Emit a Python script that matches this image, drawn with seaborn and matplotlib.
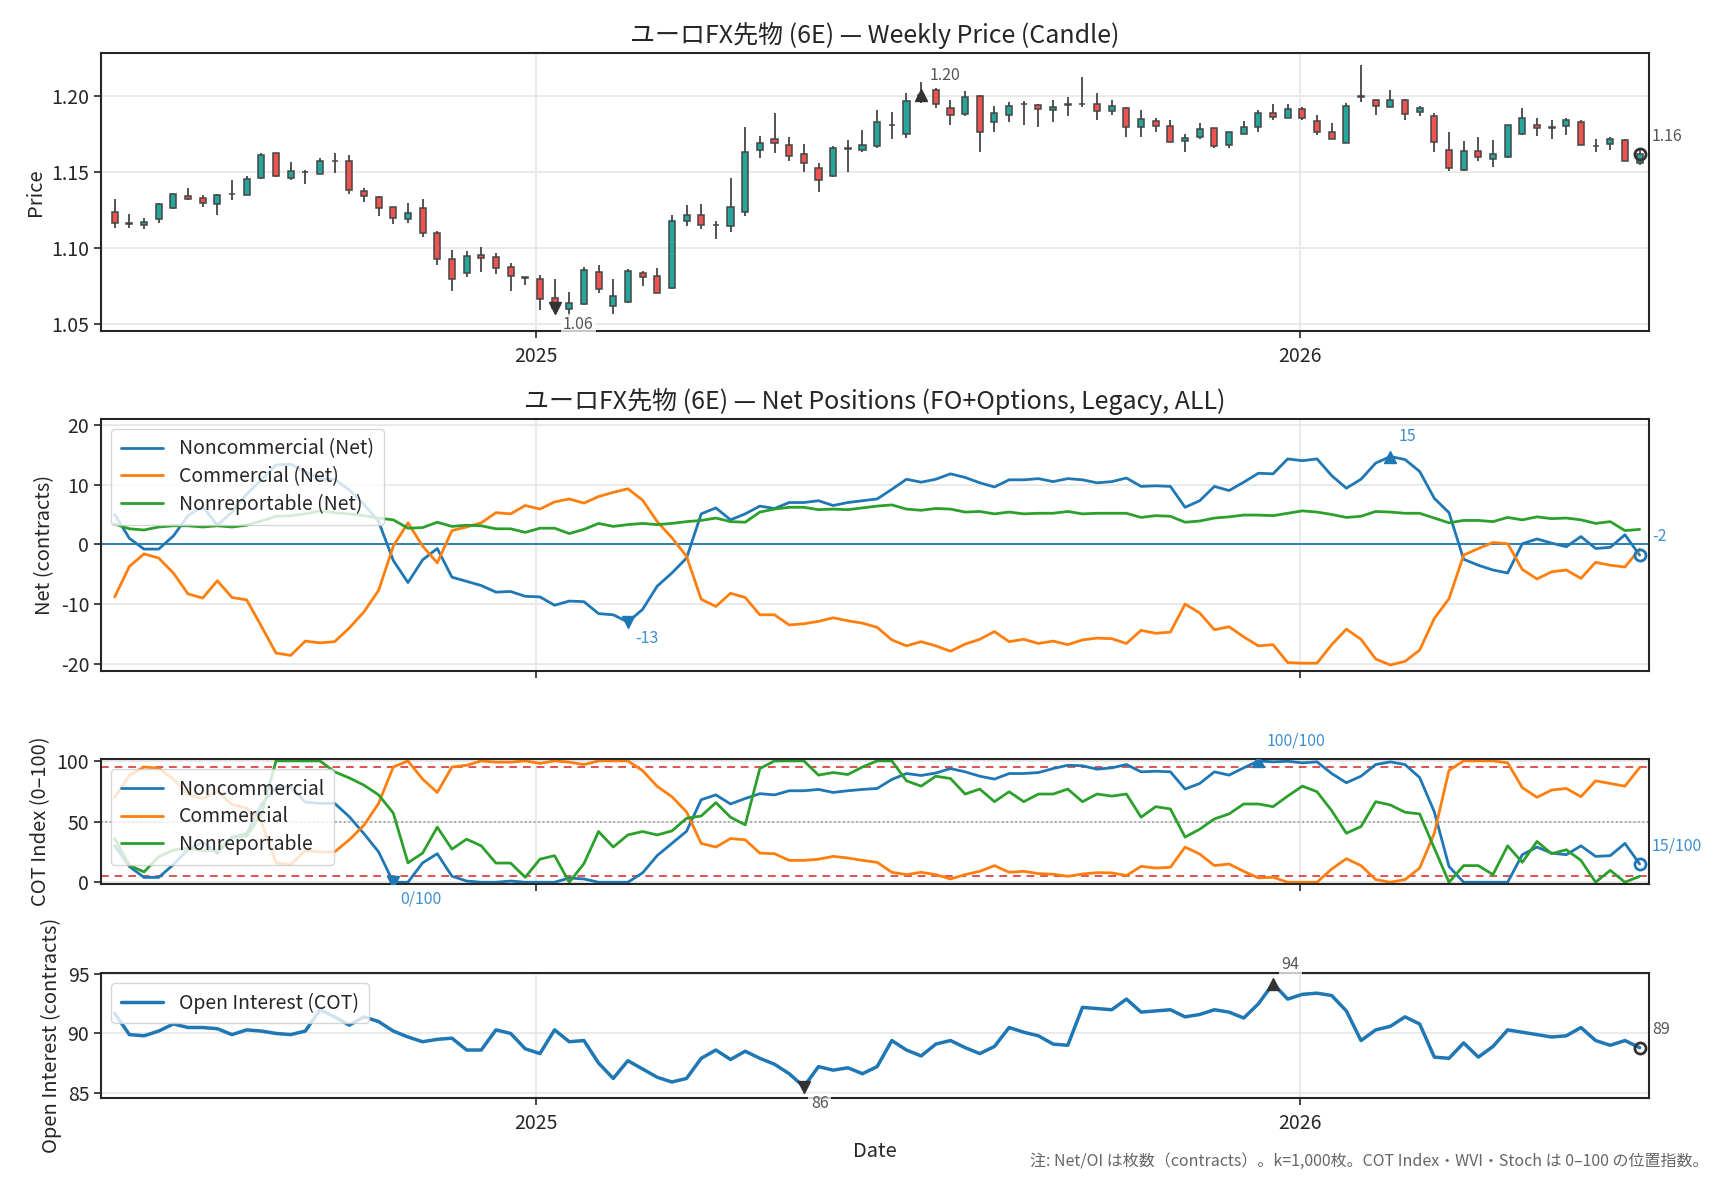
import numpy as np
import pandas as pd
import matplotlib
matplotlib.use("Agg")
import matplotlib.pyplot as plt
import matplotlib.dates as mdates
import seaborn as sns

# ---------------- data ----------------
dates = pd.date_range("2024-06-14", periods=105, freq="7D")

open_ = [1.1237,1.1165,1.1149,1.1189,1.1265,1.1344,1.1329,1.1292,1.1353,1.1346,
         1.1458,1.1621,1.1463,1.1502,1.1489,1.1570,1.1572,1.1375,1.1338,1.1270,
         1.1193,1.1263,1.1101,1.0928,1.0833,1.0954,1.0941,1.0875,1.0807,1.0798,
         1.0671,1.0601,1.0634,1.0844,1.0618,1.0645,1.0838,1.0816,1.0739,1.1175,
         1.1217,1.1151,1.1143,1.1239,1.1643,1.1713,1.1678,1.1616,1.1526,1.1474,
         1.1656,1.1643,1.1667,1.1810,1.1748,1.1967,1.2039,1.1919,1.1879,1.2000,
         1.1829,1.1873,1.1947,1.1941,1.1906,1.1941,1.1943,1.1945,1.1901,1.1921,
         1.1796,1.1836,1.1803,1.1706,1.1726,1.1785,1.1675,1.1748,1.1792,1.1890,
         1.1853,1.1910,1.1836,1.1765,1.1689,1.1998,1.1974,1.1923,1.1974,1.1895,
         1.1868,1.1645,1.1511,1.1638,1.1583,1.1601,1.1748,1.1807,1.1790,1.1803,
         1.1829,1.1673,1.1684,1.1711,1.1557]
high = [1.1320,1.1222,1.1200,1.1295,1.1360,1.1393,1.1346,1.1355,1.1445,1.1476,
        1.1627,1.1627,1.1568,1.1515,1.1594,1.1623,1.1614,1.1397,1.1342,1.1272,
        1.1298,1.1325,1.1112,1.0989,1.0978,1.1004,1.0969,1.0904,1.0811,1.0825,
        1.0798,1.0713,1.0877,1.0886,1.0794,1.0860,1.0851,1.0871,1.1217,1.1281,
        1.1287,1.1178,1.1463,1.1792,1.1739,1.1886,1.1732,1.1686,1.1561,1.1667,
        1.1708,1.1774,1.1906,1.1893,1.2018,1.2088,1.2048,1.1969,1.2029,1.2002,
        1.1930,1.1956,1.1963,1.1945,1.1969,1.1989,1.2121,1.2015,1.1969,1.1923,
        1.1906,1.1851,1.1840,1.1752,1.1818,1.1787,1.1765,1.1836,1.1908,1.1943,
        1.1943,1.1925,1.1871,1.1818,1.1950,1.2202,1.1982,1.2037,1.1976,1.1934,
        1.1890,1.1759,1.1700,1.1726,1.1708,1.1809,1.1917,1.1855,1.1844,1.1855,
        1.1844,1.1715,1.1732,1.1715,1.1643]
low = [1.1132,1.1132,1.1125,1.1164,1.1257,1.1316,1.1270,1.1217,1.1316,1.1346,
       1.1454,1.1467,1.1450,1.1421,1.1485,1.1493,1.1357,1.1303,1.1211,1.1158,
       1.1164,1.1072,1.0888,1.0717,1.0811,1.0844,1.0829,1.0717,1.0757,1.0592,
       1.0590,1.0553,1.0625,1.0702,1.0564,1.0640,1.0750,1.0706,1.0732,1.1145,
       1.1127,1.1061,1.1105,1.1211,1.1588,1.1627,1.1572,1.1500,1.1368,1.1467,
       1.1500,1.1632,1.1654,1.1719,1.1724,1.1955,1.1919,1.1809,1.1864,1.1632,
       1.1763,1.1825,1.1809,1.1796,1.1825,1.1864,1.1923,1.1842,1.1873,1.1730,
       1.1730,1.1759,1.1697,1.1632,1.1715,1.1654,1.1660,1.1748,1.1763,1.1842,
       1.1853,1.1842,1.1743,1.1715,1.1689,1.1956,1.1873,1.1923,1.1842,1.1868,
       1.1632,1.1507,1.1507,1.1572,1.1529,1.1588,1.1741,1.1737,1.1719,1.1743,
       1.1675,1.1632,1.1643,1.1570,1.1546]
close = [1.1162,1.1160,1.1173,1.1292,1.1355,1.1320,1.1294,1.1351,1.1357,1.1454,
         1.1612,1.1471,1.1507,1.1498,1.1572,1.1574,1.1379,1.1340,1.1265,1.1200,
         1.1232,1.1101,1.0925,1.0794,1.0947,1.0932,1.0866,1.0814,1.0803,1.0662,
         1.0605,1.0640,1.0855,1.0728,1.0684,1.0851,1.0807,1.0706,1.1178,1.1217,
         1.1149,1.1149,1.1270,1.1632,1.1691,1.1689,1.1605,1.1561,1.1445,1.1654,
         1.1652,1.1678,1.1825,1.1807,1.1967,1.2004,1.1945,1.1873,1.1993,1.1761,
         1.1888,1.1934,1.1943,1.1912,1.1928,1.1945,1.1946,1.1901,1.1934,1.1792,
         1.1846,1.1803,1.1697,1.1724,1.1781,1.1667,1.1759,1.1796,1.1890,1.1862,
         1.1914,1.1853,1.1761,1.1715,1.1934,1.1994,1.1934,1.1974,1.1879,1.1921,
         1.1697,1.1524,1.1638,1.1596,1.1618,1.1807,1.1855,1.1787,1.1789,1.1842,
         1.1675,1.1670,1.1715,1.1570,1.1616]

net_noncomm = [5.0,1.0,-0.8,-0.8,1.4,4.8,6.3,3.2,5.4,8.4,10.8,13.3,13.4,12.2,10.9,10.9,9.1,6.7,3.8,-2.7,
               -6.4,-2.6,-0.7,-5.5,-6.2,-6.9,-8.0,-7.9,-8.7,-8.8,-10.2,-9.5,-9.6,-11.6,-11.8,-13.0,-10.9,-7.0,-4.8,-2.3,
               5.1,6.1,4.1,5.1,6.4,6.0,7.0,7.0,7.3,6.5,7.0,7.3,7.6,9.2,10.9,10.4,10.9,11.8,11.2,10.3,
               9.6,10.8,10.8,11.0,10.5,11.0,10.8,10.3,10.5,11.1,9.7,9.8,9.7,6.2,7.3,9.7,9.0,10.4,11.9,11.8,
               14.3,14.0,14.3,11.5,9.4,10.9,13.6,14.7,14.2,12.2,7.7,5.3,-2.5,-3.5,-4.3,-4.8,0.1,0.9,0.2,-0.4,
               1.3,-0.7,-0.5,1.6,-1.8]
net_comm = [-8.8,-3.7,-1.6,-2.3,-4.8,-8.3,-9.0,-6.1,-8.9,-9.3,-13.7,-18.2,-18.6,-16.2,-16.5,-16.3,-14.0,-11.3,-7.7,-0.3,
            3.6,-0.3,-3.1,2.3,2.9,3.6,5.3,5.1,6.5,5.9,7.1,7.6,6.9,8.0,8.7,9.3,7.4,3.8,1.1,-2.0,
            -9.2,-10.4,-8.2,-8.9,-11.8,-11.8,-13.5,-13.3,-12.9,-12.3,-12.8,-13.2,-13.9,-16.0,-17.0,-16.3,-17.0,-17.9,-16.7,-15.9,
            -14.6,-16.3,-15.9,-16.6,-16.2,-16.8,-16.0,-15.7,-15.8,-16.6,-14.4,-14.9,-14.7,-10.0,-11.5,-14.3,-13.8,-15.5,-17.0,-16.8,
            -19.8,-19.9,-19.9,-16.8,-14.2,-15.9,-19.2,-20.2,-19.6,-17.7,-12.4,-9.1,-1.8,-0.7,0.3,0.1,-4.2,-5.8,-4.6,-4.3,
            -5.7,-3.0,-3.5,-3.8,-0.8]
net_nonrep = [3.4,2.6,2.4,2.9,3.1,3.1,2.9,3.1,2.9,3.2,3.9,4.7,4.8,5.1,5.6,5.3,5.1,4.8,4.4,4.1,
              2.7,2.8,3.7,3.0,3.2,3.1,2.6,2.6,2.0,2.7,2.7,1.8,2.5,3.5,3.0,3.3,3.5,3.3,3.5,3.8,
              4.0,4.4,3.8,3.7,5.4,5.9,6.2,6.2,5.8,5.9,5.8,6.1,6.4,6.6,5.9,5.7,6.0,5.9,5.4,5.5,
              5.1,5.4,5.1,5.2,5.2,5.5,5.1,5.2,5.2,5.2,4.5,4.8,4.7,3.7,3.9,4.4,4.6,4.9,4.9,4.8,
              5.2,5.6,5.4,5.0,4.5,4.7,5.5,5.4,5.2,5.2,4.4,3.6,4.0,4.0,3.8,4.5,4.1,4.6,4.3,4.4,
              4.1,3.5,3.8,2.3,2.5]

idx_noncomm = [30,13,4,4,14.5,27,33,24,37,40,64,78,79,66,65,65,54,40,25,0,
               0,16,23.5,5,1,0,0,1,0,0,0,3.5,2.7,0,0,0,7.7,22,32,42,
               68,72,64.5,69,73,72,75.4,75.4,76.5,74,75.4,76.5,77.3,84.7,89.6,88,90,93.7,91,87.4,
               85,89.6,89.6,90.4,93.7,96.4,96,93.2,94.3,97,91,91.5,91,76.8,81.4,91,88.3,94.3,100,99.2,
               99.7,98.4,99.2,89.6,82,87.4,97,99.2,97,86.3,58,13,0,0,0,0,22.7,29,24,22.7,
               30,21.3,21.9,32,15]
idx_comm = [70,88,95,94,85,72,69,75,64,61,50,16,14.5,26,25,25,35,47,65,95,
            100,85,74,95,96.4,100,99,99,100,98,100,99,97,100,100,100,92,79,70.5,58,
            32,29,36,35,24,23.5,18,18,19,21.3,20,18,16.4,8.2,6.3,8.2,6.3,2.7,6.3,9,
            13.7,8.2,9,7.1,6.6,4.9,6.8,7.9,7.7,5.5,13.1,11.7,12.3,29,23.2,13.7,15,9,3.6,4.1,
            0,0,0,10.9,19.4,13.7,2.2,0,2.2,11.7,40.4,92.3,100,100,100,98.4,78,70,76,77.3,
            70.5,83.6,81.4,79.2,94.5]
idx_nonrep = [36,14,8.5,21,26.5,28,26,26,37,38,56,100,100,100,100,91,86,80,72,57,
              16,24,45.4,27.3,35.5,30,15.8,15.8,4.1,19,21.9,0,15.3,41.8,29,39,41.8,39,42.3,52.7,
              54.6,65.6,53.6,47.3,93.7,100,100,100,88.3,90.4,88.8,95,100,100,83.6,79.2,87.4,85.5,72.7,76.8,
              66.4,74.6,66.4,72.7,72.7,76.8,66.4,72.7,71,72.7,53.6,62.3,60.4,37.2,43.7,52.2,56.3,64.5,64.5,62.3,
              71,79.2,74.6,59,40.4,45.9,66.4,63.7,57.7,56.3,28,0,13.7,13.7,6.3,30,16.4,33.6,23.5,26.8,
              18,0,9.8,0,4.9]

open_interest = [91.7,89.9,89.8,90.2,90.8,90.5,90.5,90.4,89.9,90.3,90.2,90.0,89.9,90.2,92.0,91.4,90.7,91.4,91.0,90.2,
                 89.7,89.3,89.5,89.6,88.6,88.6,90.3,90.0,88.7,88.3,90.3,89.3,89.4,87.5,86.2,87.7,87.0,86.3,85.9,86.2,
                 87.9,88.6,87.8,88.5,87.9,87.4,86.6,85.5,87.2,86.9,87.1,86.6,87.2,89.4,88.6,88.1,89.1,89.4,88.8,88.3,
                 88.9,90.5,90.1,89.8,89.1,89.0,92.2,92.1,92.0,92.9,91.8,91.9,92.0,91.4,91.6,92.0,91.8,91.3,92.5,94.2,
                 92.9,93.3,93.4,93.2,91.9,89.4,90.3,90.6,91.4,90.8,88.0,87.9,89.2,88.0,88.9,90.3,90.1,89.9,89.7,89.8,
                 90.5,89.4,89.0,89.4,88.8]

title_price = "ユーロFX先物 (6E) — Weekly Price (Candle)"
title_net = "ユーロFX先物 (6E) — Net Positions (FO+Options, Legacy, ALL)"
note_text = "注: Net/OI は枚数（contracts）。k=1,000枚。COT Index・WVI・Stoch は 0–100 の位置指数。"

# ---------------- style ----------------
sns.set_theme(style="ticks")
plt.rcParams["font.family"] = ["Noto Sans CJK JP", "DejaVu Sans"]
plt.rcParams["axes.unicode_minus"] = False

BLUE, ORANGE, GREEN = "#1f77b4", "#ff7f0e", "#2ca02c"
UP, DOWN, EDGE = "#26a69a", "#ef5350", "#454545"
DARK = "#333333"
LBL_GRAY = "#555555"
LBL_BLUE = "#3f8fcf"
TICK_FS, LAB_FS, LEG_FS, TITLE_FS, ANN_FS = 14, 14.5, 14, 18, 11.5

fig = plt.figure(figsize=(17.28, 11.8), dpi=100)
L, W = 0.0585, 0.8958
ax1 = fig.add_axes([L, 0.7195, W, 0.2356])
ax2 = fig.add_axes([L, 0.4314, W, 0.2136])
ax3 = fig.add_axes([L, 0.2508, W, 0.1059])
ax4 = fig.add_axes([L, 0.0695, W, 0.1059])

xmin = dates[0] - pd.Timedelta(days=6.5)
xmax = dates[-1] + pd.Timedelta(days=4.5)
bbox_kw = dict(boxstyle="square,pad=0.15", fc="white", ec="none", alpha=0.75)

def base(ax):
    ax.set_xlim(xmin, xmax)
    ax.grid(True, color="#e6e6e6", lw=1.2)
    ax.set_axisbelow(True)
    ax.xaxis.set_major_locator(mdates.YearLocator())
    ax.xaxis.set_major_formatter(mdates.DateFormatter("%Y"))
    ax.tick_params(labelsize=TICK_FS, length=5, width=1.2)
    ax.tick_params(axis="x", pad=6)
    for s in ax.spines.values():
        s.set_visible(True)
        s.set_color("#262626")
        s.set_linewidth(1.5)

def mark(ax, x, y, marker, color, text, dx, dy, va, tcolor):
    if marker == "o":
        ax.plot([x], [y], marker="o", ms=8, mfc="none", mec=color, mew=2, zorder=6)
    else:
        ax.plot([x], [y], marker=marker, ms=9, color=color, zorder=6, ls="none")
    ax.annotate(text, xy=(x, y), xytext=(dx, dy), textcoords="offset points",
                fontsize=ANN_FS, color=tcolor, ha="left", va=va, bbox=bbox_kw,
                annotation_clip=False, zorder=7)

def legend(ax):
    ax.legend(loc="upper left", fontsize=LEG_FS, framealpha=0.8, edgecolor="#cccccc",
              handlelength=2.2, borderpad=0.5, labelspacing=0.35)

# ---------------- panel 1: candles ----------------
o = np.array(open_); h = np.array(high); lo = np.array(low); c = np.array(close)
base(ax1)
ax1.vlines(dates, lo, h, color=EDGE, lw=1.3, zorder=2)
cols = [UP if cc >= oo else DOWN for oo, cc in zip(o, c)]
hgt = np.maximum(np.abs(c - o), 0.0003)
ax1.bar(dates, hgt, bottom=np.minimum(o, c), width=2.9, color=cols,
        edgecolor=EDGE, linewidth=1.1, zorder=3)
ax1.set_ylim(1.0455, 1.2281)
ax1.set_yticks([1.05, 1.10, 1.15, 1.20])
ax1.yaxis.set_major_formatter(matplotlib.ticker.FormatStrFormatter("%.2f"))
ax1.set_ylabel("Price", fontsize=LAB_FS)
ax1.set_xlabel("")
ax1.set_title(title_price, fontsize=TITLE_FS, pad=7)
imax = int(np.argmax(c)); imin = int(np.argmin(c))
mark(ax1, dates[imax], c[imax], "^", DARK, f"{c[imax]:.2f}", 6, 8, "bottom", LBL_GRAY)
mark(ax1, dates[imin], c[imin], "v", DARK, f"{c[imin]:.2f}", 6, -6, "top", LBL_GRAY)
mark(ax1, dates[-1], c[-1], "o", DARK, f"{c[-1]:.2f}", 9, 7, "bottom", LBL_GRAY)

# ---------------- panel 2: net positions ----------------
base(ax2)
ax2.axhline(0, color=BLUE, lw=1.3, zorder=1)
sns.lineplot(x=dates, y=net_noncomm, ax=ax2, color=BLUE, lw=2, label="Noncommercial (Net)")
sns.lineplot(x=dates, y=net_comm, ax=ax2, color=ORANGE, lw=2, label="Commercial (Net)")
sns.lineplot(x=dates, y=net_nonrep, ax=ax2, color=GREEN, lw=2, label="Nonreportable (Net)")
ax2.set_ylim(-21.2, 21.0)
ax2.set_yticks([-20, -10, 0, 10, 20])
ax2.set_ylabel("Net (contracts)", fontsize=LAB_FS)
ax2.set_xlabel("")
ax2.set_title(title_net, fontsize=TITLE_FS, pad=7)
ax2.tick_params(labelbottom=False)
legend(ax2)
nn = np.array(net_noncomm)
imax = int(np.argmax(nn)); imin = int(np.argmin(nn))
mark(ax2, dates[imax], nn[imax], "^", BLUE, f"{nn[imax]:.0f}", 6, 8, "bottom", LBL_BLUE)
mark(ax2, dates[imin], nn[imin], "v", BLUE, f"{nn[imin]:.0f}", 5, -6, "top", LBL_BLUE)
mark(ax2, dates[-1], nn[-1], "o", BLUE, f"{nn[-1]:.0f}", 9, 7, "bottom", LBL_BLUE)

# ---------------- panel 3: COT index ----------------
base(ax3)
ax3.axhline(95, color="#d62728", lw=1.4, ls=(0, (4, 3)), alpha=0.8, zorder=1)
ax3.axhline(5, color="#d62728", lw=1.4, ls=(0, (4, 3)), alpha=0.8, zorder=1)
ax3.axhline(50, color="#999999", lw=1.2, ls=":", zorder=1)
sns.lineplot(x=dates, y=idx_noncomm, ax=ax3, color=BLUE, lw=2, label="Noncommercial")
sns.lineplot(x=dates, y=idx_comm, ax=ax3, color=ORANGE, lw=2, label="Commercial")
sns.lineplot(x=dates, y=idx_nonrep, ax=ax3, color=GREEN, lw=2, label="Nonreportable")
ax3.set_ylim(-1.5, 101.5)
ax3.set_yticks([0, 50, 100])
ax3.set_ylabel("COT Index (0–100)", fontsize=LAB_FS)
ax3.set_xlabel("")
ax3.tick_params(labelbottom=False)
legend(ax3)
ni = np.array(idx_noncomm)
imax = int(np.argmax(ni)); imin = int(np.argmin(ni))
mark(ax3, dates[imax], ni[imax], "^", BLUE, f"{ni[imax]:.0f}/100", 6, 8, "bottom", LBL_BLUE)
mark(ax3, dates[imin], ni[imin], "v", BLUE, f"{ni[imin]:.0f}/100", 5, -6, "top", LBL_BLUE)
mark(ax3, dates[-1], ni[-1], "o", BLUE, f"{ni[-1]:.0f}/100", 9, 7, "bottom", LBL_BLUE)

# ---------------- panel 4: open interest ----------------
base(ax4)
sns.lineplot(x=dates, y=open_interest, ax=ax4, color=BLUE, lw=2.5, label="Open Interest (COT)")
ax4.set_ylim(84.55, 95.1)
ax4.set_yticks([85, 90, 95])
ax4.set_ylabel("Open Interest (contracts)", fontsize=LAB_FS)
ax4.set_xlabel("Date", fontsize=LAB_FS, labelpad=5)
legend(ax4)
oi = np.array(open_interest)
imax = int(np.argmax(oi)); imin = int(np.argmin(oi))
mark(ax4, dates[imax], oi[imax], "^", DARK, f"{oi[imax]:.0f}", 6, 8, "bottom", LBL_GRAY)
mark(ax4, dates[imin], oi[imin], "v", DARK, f"{oi[imin]:.0f}", 5, -6, "top", LBL_GRAY)
mark(ax4, dates[-1], oi[-1], "o", DARK, f"{oi[-1]:.0f}", 9, 7, "bottom", LBL_GRAY)

fig.text(0.9885, 0.016, note_text, ha="right", va="center", fontsize=11.5, color="#666666")

fig.savefig("out.png", dpi=100)
